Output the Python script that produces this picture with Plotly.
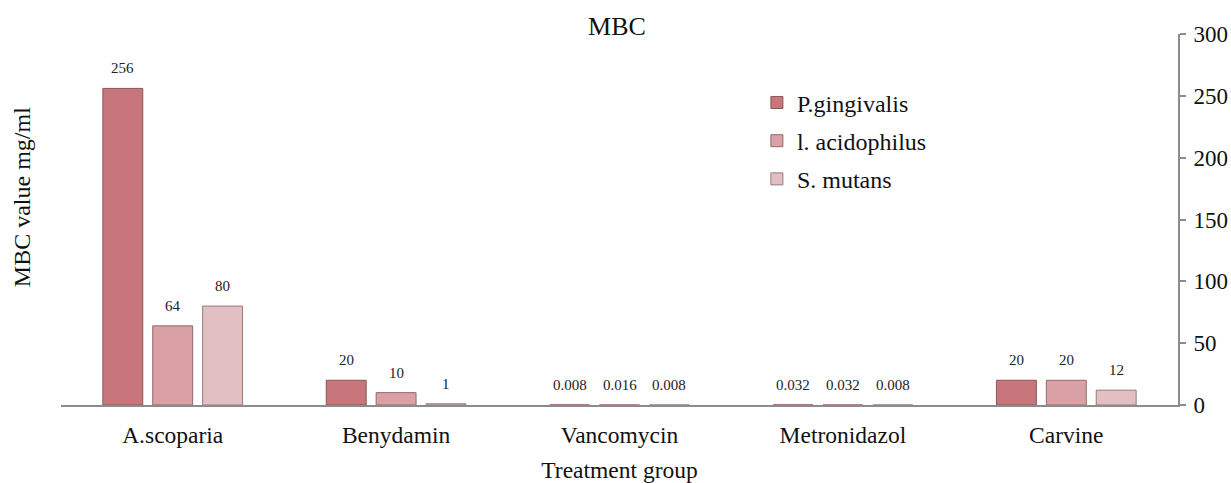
import plotly.graph_objects as go

categories = ["A.scoparia", "Benydamin", "Vancomycin", "Metronidazol", "Carvine"]
series_names = ["P.gingivalis", "l. acidophilus", "S. mutans"]
p_gingivalis = [256, 20, 0.008, 0.032, 20]
l_acidophilus = [64, 10, 0.016, 0.032, 20]
s_mutans = [80, 1, 0.008, 0.008, 12]
y_ticks = [0, 50, 100, 150, 200, 250, 300]

series_values = [p_gingivalis, l_acidophilus, s_mutans]
colors = ["#c7767b", "#d9a1a5", "#e2bfc2"]
outlines = ["#8a5656", "#946868", "#9a7a7c"]

FONT = "Liberation Serif, Times New Roman, serif"
W, H = 1231, 483
ML, MR, MT, MB = 61, 53, 34, 78
BARGAP, BARGROUPGAP = 0.33, 0.2

fig = go.Figure()
for i, (name, vals) in enumerate(zip(series_names, series_values)):
    fig.add_trace(go.Bar(
        x=categories, y=vals, name=name,
        legendgroup=name,
        marker=dict(color=colors[i], line=dict(color=outlines[i], width=1)),
    ))

# data labels placed above each bar
plot_w = W - ML - MR
slot = plot_w / len(categories) * (1 - BARGAP) / len(series_names)
annotations = []
for i, vals in enumerate(series_values):
    for c, v in zip(categories, vals):
        annotations.append(dict(
            x=c, y=v, xref="x", yref="y", text=f"{v:g}", showarrow=False,
            xshift=(i - 1) * slot, yshift=20, xanchor="center", yanchor="middle",
            font=dict(family=FONT, size=15, color="#222222"),
        ))

annotations.append(dict(text="MBC value mg/ml", textangle=-90, xref="paper", yref="paper",
                        x=-0.035, y=0.56, showarrow=False, xanchor="center", yanchor="middle",
                        font=dict(family=FONT, size=24, color="#111111")))

fig.update_layout(
    width=W, height=H,
    margin=dict(l=ML, r=MR, t=MT, b=MB, autoexpand=False),
    paper_bgcolor="white", plot_bgcolor="white",
    font=dict(family=FONT, size=24, color="#111111"),
    barmode="group", bargap=BARGAP, bargroupgap=BARGROUPGAP,
    title=dict(text="MBC", x=617 / W, xref="container", y=1 - 26 / H, yref="container",
               xanchor="center", yanchor="middle",
               font=dict(family=FONT, size=26, color="#111111")),
    legend=dict(x=0.623, y=0.875, xanchor="left", yanchor="top",
                font=dict(family=FONT, size=24, color="#111111"),
                tracegroupgap=4, bgcolor="rgba(0,0,0,0)", itemwidth=30),
    showlegend=True,
    xaxis=dict(showline=True, linecolor="#8c8c8c", linewidth=2, ticks="",
               showgrid=False, tickfont=dict(size=23.5), ticklabelstandoff=8,
               automargin=False,
               title=dict(text="Treatment group", font=dict(size=23.5), standoff=16)),
    yaxis=dict(side="right", range=[0, 300], tickvals=y_ticks, showgrid=False,
               zeroline=False, showline=True, linecolor="#8c8c8c", linewidth=2,
               ticks="outside", ticklen=6, tickcolor="#8c8c8c", tickwidth=1.5,
               ticklabelstandoff=3, automargin=False, tickfont=dict(size=23)),
    annotations=annotations,
)

fig.write_html("out.html", config={"displayModeBar": False},
               post_script="document.body.style.margin='0';")
